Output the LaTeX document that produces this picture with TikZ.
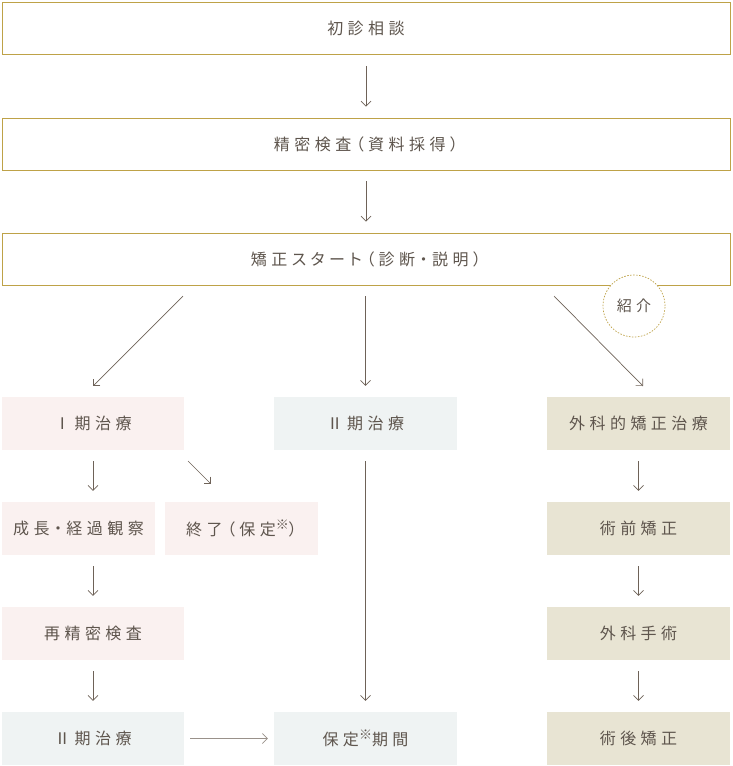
\documentclass[tikz,border=0pt]{standalone}
\usepackage{fontspec}
\newfontfamily\jp[LetterSpace=28,RawFeature=+palt]{Noto Sans CJK JP}
\usetikzlibrary{arrows.meta}
\definecolor{gold}{RGB}{190,162,72}
\definecolor{pinkbg}{RGB}{250,241,240}
\definecolor{bluebg}{RGB}{239,243,243}
\definecolor{beigebg}{RGB}{232,228,211}
\definecolor{txt}{RGB}{94,85,77}
\definecolor{arrc}{RGB}{110,98,88}
\newcommand{\kome}{\raisebox{0.35em}{\fontsize{13}{13}\selectfont ※}}

\begin{document}
\begin{tikzpicture}[x=1pt,y=-1pt,
  every node/.style={font=\jp\fontsize{16}{16}\selectfont,text=txt,inner sep=0pt},
  wide/.style={draw=gold,line width=0.9pt,fill=white,minimum width=728pt,minimum height=52pt},
  pinkbox/.style={fill=pinkbg,minimum height=53pt},
  bluebox/.style={fill=bluebg,minimum height=53pt},
  beigebox/.style={fill=beigebg,minimum height=53pt},
  arr/.style={draw=arrc,line width=0.7pt,-{Straight Barb[length=5pt,width=10pt]}}]
  \useasboundingbox (0,0) rectangle (732,766);
  % top boxes
  \node[wide] (shoshin) at (366,28.5) {初診相談};
  \node[wide] (seimitsu) at (366,144) {精密検査（資料採得）};
  \node[wide] (start) at (366,259) {矯正スタート（診断・説明）};
  \draw[arr,shorten <=11pt,shorten >=11pt] (shoshin) -- (seimitsu);
  \draw[arr,shorten <=11pt,shorten >=11pt] (seimitsu) -- (start);
  % introduction mark
  \node[draw=gold,dash pattern=on 1.5pt off 1.5pt,line width=0.7pt,circle,fill=white,
    minimum size=62pt,font=\jp\fontsize{15}{15}\selectfont] (shokai) at (634,306) {紹介};
  % row 1
  \node[pinkbox,minimum width=182pt] (ki1) at (93,423.5) {Ⅰ期治療};
  \node[bluebox,minimum width=183pt] (ki2) at (365.5,423.5) {Ⅱ期治療};
  \node[beigebox,minimum width=183pt] (geka) at (638.5,423.5) {外科的矯正治療};
  \coordinate (s1) at (183,296);
  \coordinate (e1) at (93,386);
  \coordinate (s3) at (554,296);
  \coordinate (e3) at (643,386);
  \draw[arr] (s1) -- (e1);
  \draw[arr,shorten <=11pt,shorten >=11pt] (start.south -| ki2) -- (ki2);
  \draw[arr] (s3) -- (e3);
  % row 2
  \node[pinkbox,minimum width=153pt] (keika) at (78.5,528.5) {成長・経過観察};
  \node[pinkbox,minimum width=153pt] (shuryo) at (241.5,528.5) {終了（保定\kome）};
  \node[beigebox,minimum width=183pt] (jutsuzen) at (638.5,528.5) {術前矯正};
  \draw[arr,shorten <=11pt,shorten >=11pt] (ki1.south) -- (ki1.south |- keika.north);
  \coordinate (s4) at (188,461);
  \coordinate (e4) at (211,484);
  \draw[arr] (s4) -- (e4);
  \draw[arr,shorten <=11pt,shorten >=11pt] (geka) -- (jutsuzen);
  % row 3
  \node[pinkbox,minimum width=182pt] (saiseimitsu) at (93,633.5) {再精密検査};
  \node[beigebox,minimum width=183pt] (shujutsu) at (638.5,633.5) {外科手術};
  \draw[arr,shorten <=11pt,shorten >=11pt] (saiseimitsu.north |- keika.south) -- (saiseimitsu.north);
  \draw[arr,shorten <=11pt,shorten >=11pt] (jutsuzen) -- (shujutsu);
  % row 4
  \node[bluebox,minimum width=182pt] (ki2b) at (93,738.5) {Ⅱ期治療};
  \node[bluebox,minimum width=183pt] (hotei) at (365.5,738.5) {保定\kome 期間};
  \node[beigebox,minimum width=183pt] (jutsugo) at (638.5,738.5) {術後矯正};
  \draw[arr,shorten <=11pt,shorten >=11pt] (saiseimitsu) -- (ki2b);
  \draw[arr,shorten <=11pt,shorten >=11pt] (shujutsu) -- (jutsugo);
  \draw[arr,shorten <=11pt,shorten >=11pt] (ki2) -- (hotei);
  \draw[arr,draw=arrc!70,shorten <=6pt,shorten >=6pt] (ki2b) -- (hotei);
\end{tikzpicture}
\end{document}
